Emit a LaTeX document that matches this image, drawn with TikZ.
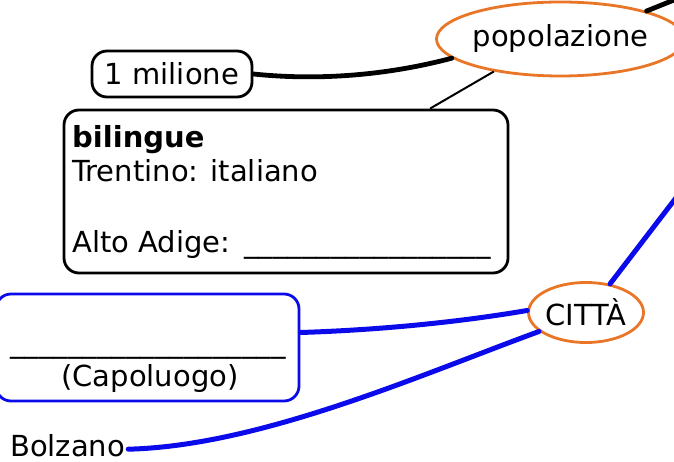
\documentclass[tikz,border=0pt]{standalone}
\usepackage{fontspec}
\setmainfont{DejaVu Sans}
\usetikzlibrary{shapes.geometric}
\definecolor{orng}{RGB}{232,118,38}
\definecolor{blu}{RGB}{10,10,235}
\tikzset{
  txt/.style={font=\fontsize{29}{35}\selectfont, inner sep=0pt},
  oval/.style={ellipse, draw=orng, line width=2.8pt, inner sep=0pt, font=\fontsize{29}{35}\selectfont},
  blackbox/.style={draw=black, line width=2.8pt, rounded corners=15pt, inner sep=0pt},
  bluebox/.style={draw=blu, line width=2.8pt, rounded corners=15pt, inner sep=0pt},
  thickblack/.style={draw=black, line width=4.8pt, line cap=round},
  thinblack/.style={draw=black, line width=2pt},
  bluelink/.style={draw=blu, line width=5pt, line cap=round}
}
\begin{document}
\begin{tikzpicture}[x=1pt,y=-1pt]
\useasboundingbox (0,0) rectangle (674,462);
% nodes
\node[oval, minimum width=196pt, minimum height=74pt] (pop) at (560.5,39) {popolazione};
\node[oval, minimum width=112pt, minimum height=60pt] (citta) at (586,312.5) {CITTÀ};
\node[blackbox, txt, minimum width=160pt, minimum height=46pt] (mil) at (172,74) {1 milione};
\node[blackbox, minimum width=444pt, minimum height=163pt] (bil) at (286,191.5) {};
\node[txt, anchor=base west, font=\fontsize{29}{35}\selectfont\bfseries] (b1) at (72,148) {bilingue};
\node[txt, anchor=base west] (b2) at (72,182) {Trentino: italiano};
\node[txt, anchor=base west] (b3) at (72,253) {Alto Adige:\hspace{14pt}\_\_\_\_\_\_\_\_\_\_\_\_\_\_\_\_\_};
\node[bluebox, minimum width=303pt, minimum height=107pt] (capo) at (147.5,347.5) {};
\node[txt, anchor=base] (c1) at (148,352) {\_\_\_\_\_\_\_\_\_\_\_\_\_\_\_\_\_\_\_};
\node[txt, anchor=base] (c2) at (150,386) {(Capoluogo)};
\node[txt, anchor=base west] (bolz) at (10,456) {Bolzano};
\coordinate (tr1) at (684,-4);
\coordinate (tr2) at (682,190);
% connectors
\draw[thickblack] (mil.east) .. controls (330,82) and (400,72) .. (pop.190);
\draw[thickblack] (pop.18) -- (tr1);
\draw[thinblack] (pop.206) -- ([xshift=144pt]bil.north);
\draw[bluelink] (citta.50) -- (tr2);
\draw[bluelink] ([yshift=15pt]capo.east) .. controls (380,330) and (460,322) .. (citta.178);
\draw[bluelink] ([xshift=3pt,yshift=-4pt]bolz.east) .. controls (260,446) and (420,375) .. (citta.202);
\end{tikzpicture}
\end{document}
